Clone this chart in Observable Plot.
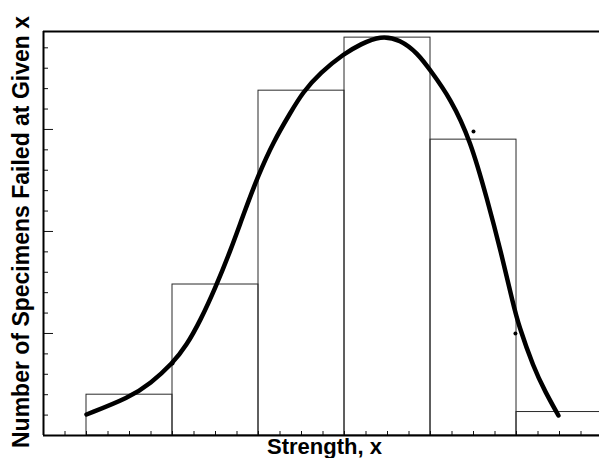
<!DOCTYPE html>
<html>
<head>
<meta charset="utf-8">
<script src="https://cdn.jsdelivr.net/npm/d3@7"></script>
<script src="https://cdn.jsdelivr.net/npm/@observablehq/plot@0.6"></script>
<style>
  html, body { margin: 0; padding: 0; background: #fff; overflow: hidden; }
</style>
</head>
<body>
<div id="chart"></div>
<script>
// Histogram bins (strength interval start/end) and counts
const binStart = [2, 6, 10, 14, 18, 22];
const binEnd   = [6, 10, 14, 18, 22, 26];
const binCount = [2.0, 7.4, 16.9, 19.5, 14.5, 1.15];

// Fitted curve
const curveX = [2.0, 4.0, 4.98, 6.0, 6.65, 7.3, 8.0, 8.7, 9.3, 10.0, 10.7, 11.49, 12.05, 12.88, 14.0, 14.74, 15.67, 16.6, 17.4, 18.0, 18.93, 19.86, 20.65, 21.26, 21.86, 22.09, 22.79, 23.35, 23.95];
const curveY = [1.03, 1.86, 2.55, 3.53, 4.41, 5.64, 7.25, 9.07, 10.83, 12.79, 14.41, 15.83, 16.81, 17.79, 18.73, 19.17, 19.6, 19.4, 18.73, 17.89, 16.52, 14.46, 11.52, 9.07, 6.37, 5.44, 3.33, 2.11, 0.98];

// Small marker points
const dotX = [6.0, 20.0, 21.95];
const dotY = [3.53, 14.9, 5.0];

// Tick positions
const xTicks = d3.range(1, 26);
const yTicks = d3.range(1, 20);
const yMajor = [5, 10, 15];

const xMax = 25.86, yMax = 19.8;

const bars = binStart.map((s, i) => ({x1: s, x2: binEnd[i], c: binCount[i]}));
const curve = curveX.map((x, i) => ({x, y: curveY[i]}));
const dots = dotX.map((x, i) => ({x, y: dotY[i]}));

const pxPerX = (599 - 43) / xMax;
const pxPerY = (435 - 31) / yMax;

const font = "'Liberation Sans', Arial, sans-serif";

const chart = Plot.plot({
  width: 599,
  height: 458,
  marginLeft: 43,
  marginRight: 0,
  marginTop: 31,
  marginBottom: 23,
  x: {domain: [0, xMax], axis: null},
  y: {domain: [0, yMax], axis: null},
  marks: [
    Plot.rect(bars, {x1: "x1", x2: "x2", y1: 0, y2: "c", fill: "none", stroke: "#2a2a2a", strokeWidth: 1, clip: true}),
    // bottom ticks (inward)
    Plot.ruleX(xTicks, {x: d => d, y1: 0, y2: 4 / pxPerY, stroke: "#111", strokeWidth: 1}),
    // left ticks (inward)
    Plot.ruleY(yTicks, {y: d => d, x1: 0, x2: d => (yMajor.includes(d) ? 10 : 5) / pxPerX, stroke: "#111", strokeWidth: 1}),
    // frame: left, bottom, top
    Plot.ruleX([0], {stroke: "#000", strokeWidth: 2}),
    Plot.ruleY([0], {stroke: "#000", strokeWidth: 2}),
    Plot.ruleY([yMax], {stroke: "#000", strokeWidth: 2}),
    Plot.line(curve, {x: "x", y: "y", curve: "basis", stroke: "#000", strokeWidth: 4.5, strokeLinecap: "round"}),
    Plot.dot(dots, {x: "x", y: "y", r: 2, fill: "#000"}),
    Plot.text(["Strength, x"], {frameAnchor: "bottom", dx: 3, dy: 18, lineAnchor: "bottom", fontFamily: font, fontWeight: "bold", fontSize: 22, fill: "#000"}),
    Plot.text(["Number of Specimens Failed at Given x"], {frameAnchor: "left", textAnchor: "middle", rotate: -90, dx: -15, dy: -1.5, lineAnchor: "bottom", fontFamily: font, fontWeight: "bold", fontSize: 23, fill: "#000"})
  ]
});
document.getElementById("chart").append(chart);
</script>
</body>
</html>
